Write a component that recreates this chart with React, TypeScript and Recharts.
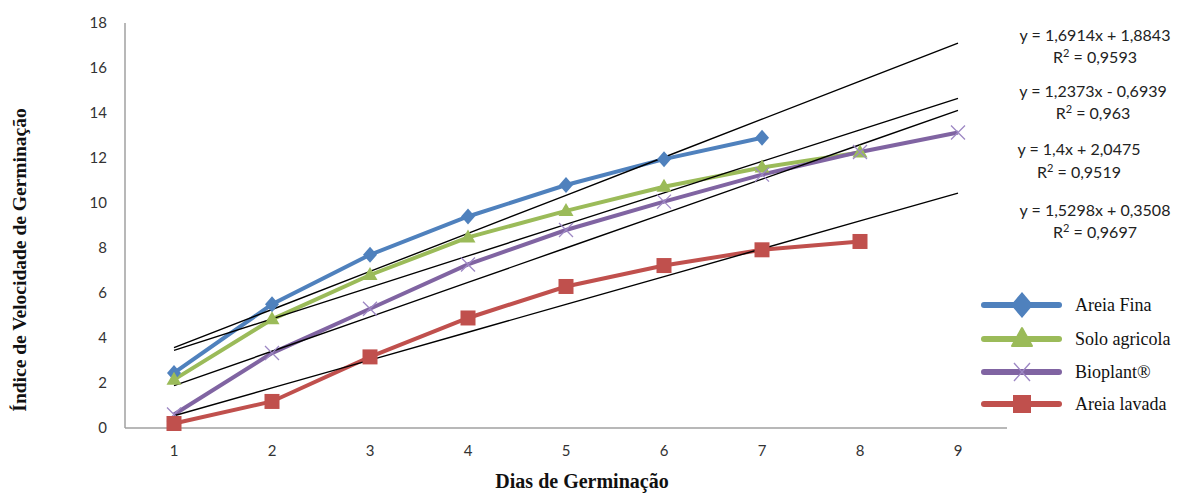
import React from 'react';
import { LineChart, Line, XAxis, YAxis } from 'recharts';

const days = [1, 2, 3, 4, 5, 6, 7, 8, 9];
const areiaFina = [2.45, 5.5, 7.7, 9.4, 10.8, 11.95, 12.9];
const soloAgricola = [2.15, 4.83, 6.8, 8.47, 9.65, 10.72, 11.58, 12.25];
const bioplant = [0.6, 3.33, 5.3, 7.27, 8.8, 10.06, 11.26, 12.27, 13.13];
const areiaLavada = [0.2, 1.18, 3.16, 4.89, 6.29, 7.22, 7.92, 8.29];
const yTicks = [0, 2, 4, 6, 8, 10, 12, 14, 16, 18];

// regression coefficients shown on the chart
const trendSlope = { fina: 1.6914, solo: 1.4, bio: 1.5298, lavada: 1.2373 };
const trendIntercept = { fina: 1.8843, solo: 2.0475, bio: 0.3508, lavada: -0.6939 };

const equations = [
  { eq: 'y = 1,6914x + 1,8843', r2: '0,9593', y1: 35, y2: 57, cx: 1095 },
  { eq: 'y = 1,2373x - 0,6939', r2: '0,963', y1: 91, y2: 113, cx: 1093 },
  { eq: 'y = 1,4x + 2,0475', r2: '0,9519', y1: 149, y2: 172, cx: 1079 },
  { eq: 'y = 1,5298x + 0,3508', r2: '0,9697', y1: 210, y2: 232, cx: 1095 },
];

const COL = { fina: '#4F81BD', solo: '#9BBB59', bio: '#8064A2', lavada: '#C0504D' };

const data = days.map((d, i) => ({
  x: d,
  fina: areiaFina[i] ?? null,
  solo: soloAgricola[i] ?? null,
  bio: bioplant[i] ?? null,
  lavada: areiaLavada[i] ?? null,
  tFina: trendSlope.fina * d + trendIntercept.fina,
  tSolo: trendSlope.solo * d + trendIntercept.solo,
  tBio: trendSlope.bio * d + trendIntercept.bio,
  tLavada: trendSlope.lavada * d + trendIntercept.lavada,
}));

const ok = (p: any) => p && p.cx != null && p.cy != null && p.value != null && !isNaN(p.cy);

const DiamondDot = (p: any) => {
  if (!ok(p)) return <g key={`fd-${p.index}`} />;
  const { cx, cy } = p;
  return <path key={`fd-${p.index}`} d={`M${cx},${cy - 8} L${cx + 7},${cy} L${cx},${cy + 8} L${cx - 7},${cy} Z`} fill={COL.fina} />;
};
const TriangleDot = (p: any) => {
  if (!ok(p)) return <g key={`sd-${p.index}`} />;
  const { cx, cy } = p;
  return <path key={`sd-${p.index}`} d={`M${cx},${cy - 8} L${cx + 7.5},${cy + 5} L${cx - 7.5},${cy + 5} Z`} fill={COL.solo} />;
};
const XDot = (p: any) => {
  if (!ok(p)) return <g key={`bd-${p.index}`} />;
  const { cx, cy } = p;
  return (
    <path key={`bd-${p.index}`} d={`M${cx - 7},${cy - 7} L${cx + 7},${cy + 7} M${cx - 7},${cy + 7} L${cx + 7},${cy - 7}`} stroke="#9D87C4" strokeWidth={1.3} fill="none" />
  );
};
const SquareDot = (p: any) => {
  if (!ok(p)) return <g key={`ld-${p.index}`} />;
  const { cx, cy } = p;
  return <rect key={`ld-${p.index}`} x={cx - 7.5} y={cy - 7.5} width={15} height={15} fill={COL.lavada} />;
};

const legendItems = [
  { name: 'Areia Fina', color: COL.fina, shape: 'diamond', y: 305 },
  { name: 'Solo agricola', color: COL.solo, shape: 'triangle', y: 339 },
  { name: 'Bioplant®', color: COL.bio, shape: 'x', y: 372 },
  { name: 'Areia lavada', color: COL.lavada, shape: 'square', y: 404 },
];

const LegendIcon = ({ color, shape }: { color: string; shape: string }) => (
  <svg width={84} height={30} style={{ display: 'block', overflow: 'visible' }}>
    <line x1={4} y1={15} x2={79} y2={15} stroke={color} strokeWidth={6} strokeLinecap="round" />
    {shape === 'diamond' && <path d="M42,2 L53,15 L42,28 L31,15 Z" fill={color} />}
    {shape === 'triangle' && <path d="M42,4 L52,22 L32,22 Z" fill={color} strokeLinejoin="round" stroke={color} strokeWidth={2} />}
    {shape === 'x' && <path d="M34,6 L50,24 M34,24 L50,6" stroke="#9D87C4" strokeWidth={1.4} />}
    {shape === 'square' && <rect x={33} y={6} width={18} height={18} fill={color} />}
  </svg>
);

const tickStyle = { fontFamily: 'Lato, sans-serif', fontSize: 15, fill: '#333' };

export default function App() {
  return (
    <div style={{ position: 'absolute', left: 0, top: 0, width: 1179, height: 494, background: '#fff', overflow: 'hidden' }}>
      <LineChart width={1179} height={494} data={data} margin={{ top: 23, right: 172, bottom: 36, left: 65 }}>
        <XAxis
          dataKey="x"
          type="number"
          domain={[0.5, 9.5]}
          ticks={days}
          axisLine={{ stroke: '#A0A0A0', strokeWidth: 1.5 }}
          tickLine={false}
          tickSize={0}
          tickMargin={17}
          height={30}
          tick={tickStyle}
        />
        <YAxis
          type="number"
          domain={[0, 18]}
          ticks={yTicks}
          axisLine={{ stroke: '#A0A0A0', strokeWidth: 1.5 }}
          tickLine={false}
          tickSize={0}
          tickMargin={18}
          width={60}
          tick={tickStyle}
        />
        <Line dataKey="fina" stroke={COL.fina} strokeWidth={4} dot={DiamondDot} isAnimationActive={false} />
        <Line dataKey="solo" stroke={COL.solo} strokeWidth={4} dot={TriangleDot} isAnimationActive={false} />
        <Line dataKey="bio" stroke={COL.bio} strokeWidth={4} dot={XDot} isAnimationActive={false} />
        <Line dataKey="lavada" stroke={COL.lavada} strokeWidth={4} dot={SquareDot} isAnimationActive={false} />
        <Line dataKey="tFina" stroke="#000" strokeWidth={1.4} dot={false} isAnimationActive={false} />
        <Line dataKey="tSolo" stroke="#000" strokeWidth={1.4} dot={false} isAnimationActive={false} />
        <Line dataKey="tBio" stroke="#000" strokeWidth={1.4} dot={false} isAnimationActive={false} />
        <Line dataKey="tLavada" stroke="#000" strokeWidth={1.4} dot={false} isAnimationActive={false} />
      </LineChart>

      {equations.map((e, i) => (
        <React.Fragment key={i}>
          <div style={{ position: 'absolute', left: e.cx - 100, width: 200, top: e.y1 - 10, textAlign: 'center', fontFamily: 'Lato, sans-serif', fontSize: 16, lineHeight: '20px', color: '#222', whiteSpace: 'nowrap' }}>{e.eq}</div>
          <div style={{ position: 'absolute', left: e.cx - 100, width: 200, top: e.y2 - 10, textAlign: 'center', fontFamily: 'Lato, sans-serif', fontSize: 16, lineHeight: '20px', color: '#222', whiteSpace: 'nowrap' }}>
            R<sup style={{ fontSize: 11, lineHeight: 0 }}>2</sup> = {e.r2}
          </div>
        </React.Fragment>
      ))}

      {legendItems.map((it) => (
        <div key={it.name} style={{ position: 'absolute', left: 980, top: it.y - 15, display: 'flex', alignItems: 'center', height: 30 }}>
          <LegendIcon color={it.color} shape={it.shape} />
          <span style={{ marginLeft: 11, fontFamily: '"Liberation Serif", serif', fontSize: 18, color: '#111', whiteSpace: 'nowrap' }}>{it.name}</span>
        </div>
      ))}

      <div style={{ position: 'absolute', left: 20, top: 260, width: 0, height: 0 }}>
        <div style={{ position: 'absolute', transform: 'translate(-50%, -50%) rotate(-90deg)', fontFamily: '"Liberation Serif", serif', fontWeight: 'bold', fontSize: 19.5, whiteSpace: 'nowrap', color: '#111' }}>
          Índice de Velocidade de Germinação
        </div>
      </div>
      <div style={{ position: 'absolute', left: 582, top: 481, width: 0, height: 0 }}>
        <div style={{ position: 'absolute', transform: 'translate(-50%, -50%)', fontFamily: '"Liberation Serif", serif', fontWeight: 'bold', fontSize: 20, lineHeight: '22px', whiteSpace: 'nowrap', color: '#111' }}>
          Dias de Germinação
        </div>
      </div>
    </div>
  );
}
